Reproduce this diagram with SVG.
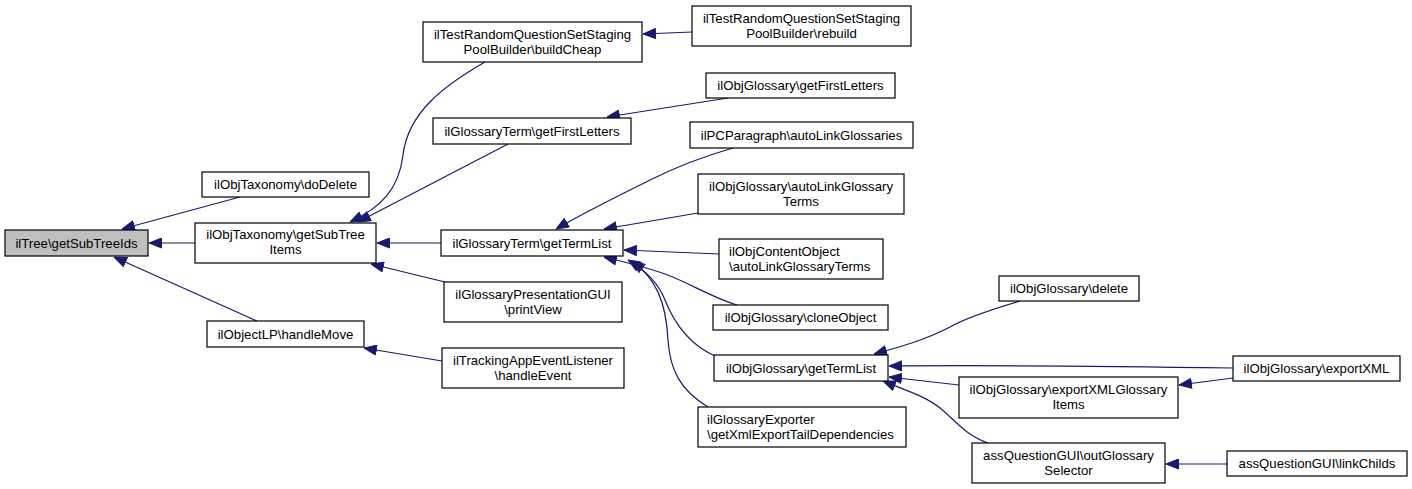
<svg xmlns="http://www.w3.org/2000/svg" width="1412" height="489" viewBox="0 0 1412 489">
<style>
.n rect{fill:#fff;stroke:#000;stroke-width:1.2}
.n text{font-family:"Liberation Sans",Arial,sans-serif;font-size:13.2px;fill:#000;text-anchor:middle}
.n text.l{text-anchor:start}
.e path{fill:none;stroke:#191970;stroke-width:1.2;marker-end:url(#ah)}
</style>
<defs>
<marker id="ah" markerUnits="userSpaceOnUse" markerWidth="13" markerHeight="11" refX="13" refY="5.5" orient="auto">
<path d="M0.5,0.5 L13,5.5 L0.5,10.5 z" fill="#191970" stroke="#191970" stroke-width="1"/>
</marker>
</defs>
<rect width="1412" height="489" fill="#fff"/>
<g id="edges" class="e">
<path d="M240,197 L122,229"/>
<path d="M195,243 L149,243"/>
<path d="M257,321 L114,257"/>
<path d="M485,62 C445,85 408,112 403,155 C399,190 380,208 350,222"/>
<path d="M508,144 L358,222"/>
<path d="M441,243 L377,243"/>
<path d="M445,282 L371,264"/>
<path d="M442,361 L364,348"/>
<path d="M692,32 L643,34"/>
<path d="M728,98 L607,117"/>
<path d="M733,148 C705,156 680,165 650,180 C620,195 585,212 556,229"/>
<path d="M698,213 L604,229"/>
<path d="M719,254 L624,250"/>
<path d="M737,305 C710,297 690,283 665,274 C645,267 625,262 604,257"/>
<path d="M715,356 C690,345 675,325 665,300 C658,282 645,270 628,260"/>
<path d="M708,407 C680,390 670,370 668,340 C666,300 655,278 632,261"/>
<path d="M1020,301 C990,310 965,318 950,327 C925,340 900,347 874,354"/>
<path d="M1233,368 C1100,366 1000,365 889,366"/>
<path d="M959,385 L889,377"/>
<path d="M988,443 C965,435 955,420 940,408 C925,396 905,390 883,381"/>
<path d="M1233,378 L1179,385"/>
<path d="M1227,464 L1166,464"/>
</g>
<g id="n0" class="n"><rect x="5" y="230" width="143" height="26" style="fill:#bfbfbf"/><text x="76.5" y="247.5">ilTree\getSubTreeIds</text></g>
<g id="n1" class="n"><rect x="202" y="172" width="167" height="25"/><text x="285.5" y="189">ilObjTaxonomy\doDelete</text></g>
<g id="n2" class="n"><rect x="195" y="223" width="181" height="40"/><text x="285.5" y="239">ilObjTaxonomy\getSubTree</text><text x="285.5" y="254">Items</text></g>
<g id="n3" class="n"><rect x="207" y="321" width="157" height="26"/><text x="285.5" y="338.5">ilObjectLP\handleMove</text></g>
<g id="n4" class="n"><rect x="423" y="22" width="219" height="40"/><text x="532.5" y="38.5">ilTestRandomQuestionSetStaging</text><text x="532.5" y="53.5">PoolBuilder\buildCheap</text></g>
<g id="n5" class="n"><rect x="692" y="6" width="219" height="40"/><text x="801.5" y="22.5">ilTestRandomQuestionSetStaging</text><text x="801.5" y="37.5">PoolBuilder\rebuild</text></g>
<g id="n6" class="n"><rect x="433" y="118" width="198" height="26"/><text x="532" y="135.5">ilGlossaryTerm\getFirstLetters</text></g>
<g id="n7" class="n"><rect x="706" y="73" width="189" height="25"/><text x="800.5" y="90">ilObjGlossary\getFirstLetters</text></g>
<g id="n8" class="n"><rect x="690" y="122" width="223" height="26"/><text x="801.5" y="139.5">ilPCParagraph\autoLinkGlossaries</text></g>
<g id="n9" class="n"><rect x="698" y="174" width="206" height="40"/><text x="801" y="190.5">ilObjGlossary\autoLinkGlossary</text><text x="801" y="205.5">Terms</text></g>
<g id="n10" class="n"><rect x="441" y="230" width="182" height="26"/><text x="532" y="247.5">ilGlossaryTerm\getTermList</text></g>
<g id="n11" class="n"><rect x="719" y="239" width="164" height="40"/><text class="l" x="729" y="255.5">ilObjContentObject</text><text class="l" x="729" y="270.5">\autoLinkGlossaryTerms</text></g>
<g id="n12" class="n"><rect x="713" y="305" width="175" height="25"/><text x="800.5" y="322">ilObjGlossary\cloneObject</text></g>
<g id="n13" class="n"><rect x="444" y="282" width="178" height="40"/><text x="533" y="298.5">ilGlossaryPresentationGUI</text><text x="533" y="313.5">\printView</text></g>
<g id="n14" class="n"><rect x="442" y="348" width="182" height="40"/><text x="533" y="364.5">ilTrackingAppEventListener</text><text x="533" y="379.5">\handleEvent</text></g>
<g id="n15" class="n"><rect x="714" y="355" width="174" height="26"/><text x="801" y="372.5">ilObjGlossary\getTermList</text></g>
<g id="n16" class="n"><rect x="698" y="407" width="208" height="40"/><text class="l" x="707" y="423.5">ilGlossaryExporter</text><text class="l" x="707" y="438.5">\getXmlExportTailDependencies</text></g>
<g id="n17" class="n"><rect x="999" y="276" width="140" height="25"/><text x="1069" y="293">ilObjGlossary\delete</text></g>
<g id="n18" class="n"><rect x="1233" y="356" width="167" height="25"/><text x="1316.5" y="373">ilObjGlossary\exportXML</text></g>
<g id="n19" class="n"><rect x="959" y="377" width="219" height="41"/><text x="1068.5" y="393.5">ilObjGlossary\exportXMLGlossary</text><text x="1068.5" y="408.5">Items</text></g>
<g id="n20" class="n"><rect x="972" y="443" width="193" height="40"/><text x="1068.5" y="459.5">assQuestionGUI\outGlossary</text><text x="1068.5" y="474.5">Selector</text></g>
<g id="n21" class="n"><rect x="1227" y="451" width="180" height="25"/><text x="1317" y="468">assQuestionGUI\linkChilds</text></g>
</svg>
